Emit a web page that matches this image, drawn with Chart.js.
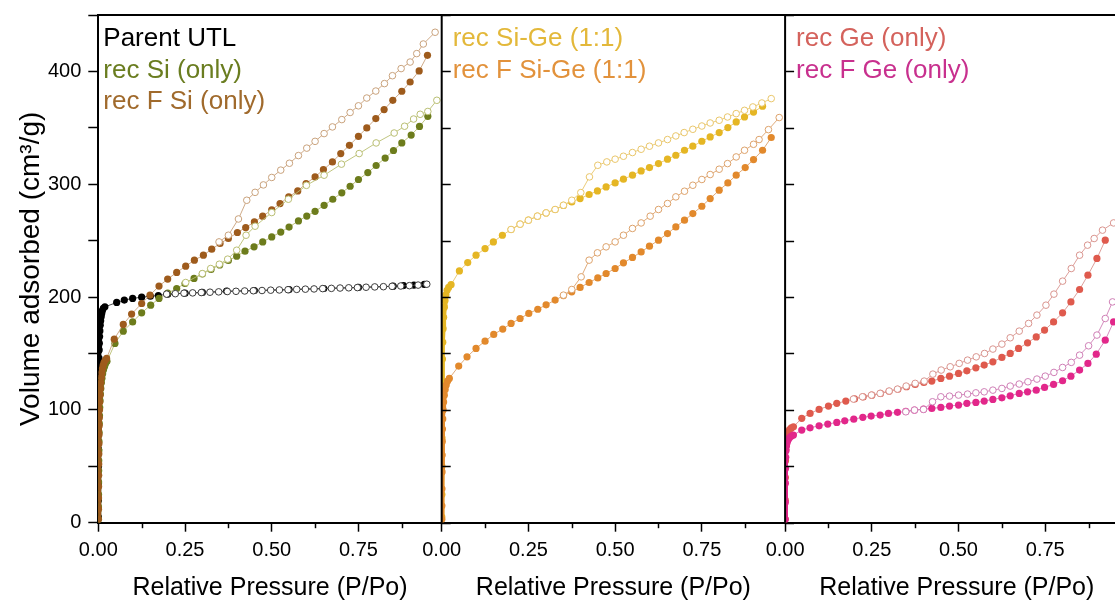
<!DOCTYPE html>
<html>
<head>
<meta charset="utf-8">
<script src="https://cdn.jsdelivr.net/npm/chart.js@4"></script>
<style>
  html, body { margin: 0; padding: 0; background: #fff; overflow: hidden; }
  #wrap { width: 1140px; height: 603px; }
</style>
</head>
<body>
<div id="wrap"><canvas id="isotherms" width="1140" height="603"></canvas></div>
<script>
// Samples, one per legend line; each has an adsorption (filled) and desorption (open) branch
const sampleNames = ["Parent UTL", "rec Si (only)", "rec F Si (only)", "rec Si-Ge (1:1)", "rec F Si-Ge (1:1)", "rec Ge (only)", "rec F Ge (only)"];
const samplePanels = ["x1", "x1", "x1", "x2", "x2", "x3", "x3"];
const fillColors = ["#000000", "#6d7c1c", "#9e5b1c", "#e5b624", "#e2892c", "#df5a4d", "#e2278a"];
const openColors = ["#3a3a3a", "#b9be72", "#c9a27c", "#e9c66a", "#dda26b", "#d9948e", "#cf7fb6"];
const textColors = ["#000000", "#6a7d20", "#a06a2c", "#e3b83a", "#e2923c", "#d4625c", "#c8308e"];

const yTicks = [0, 100, 200, 300, 400];
const xTicks = [0, 0.25, 0.5, 0.75];

// Parent UTL
const parentAdsX = [0.0002, 0.0003, 0.0004, 0.0005, 0.0006, 0.0007, 0.0008, 0.0009, 0.001, 0.0013, 0.0016, 0.002, 0.0025, 0.003, 0.0037, 0.0045, 0.0055, 0.0068, 0.0082, 0.0098, 0.0118, 0.0145, 0.019,
  0.053, 0.075, 0.099, 0.125, 0.15, 0.173, 0.2, 0.25, 0.3, 0.37, 0.45, 0.55, 0.65, 0.75, 0.85, 0.88, 0.91, 0.94];
const parentAdsY = [5, 20, 35, 50, 65, 80, 95, 108, 120, 130, 138, 146, 153, 159, 165, 170, 175, 179, 182.5, 185.5, 188, 190, 191.3,
  195.2, 197.3, 198.8, 199.9, 200.7, 201.4, 202.5, 203.4, 204.1, 205.3, 205.8, 206.6, 207.6, 208.5, 209.6, 210.2, 210.6, 211.2];
const parentDesX = [0.947, 0.922, 0.897, 0.872, 0.847, 0.822, 0.797, 0.772, 0.747, 0.722, 0.697, 0.672, 0.647, 0.622, 0.597, 0.572, 0.547, 0.522, 0.497, 0.472, 0.447, 0.422, 0.397, 0.372, 0.347, 0.322, 0.297, 0.272, 0.247, 0.222, 0.197];
const parentDesY = [211.4, 210.6, 210.1, 209.8, 209.5, 209.2, 209.0, 208.7, 208.4, 208.2, 208.0, 207.7, 207.5, 207.2, 207.0, 206.8, 206.5, 206.3, 206.1, 205.8, 205.6, 205.4, 205.1, 204.9, 204.6, 204.3, 204.0, 203.7, 203.4, 203.0, 202.6];

// rec Si (only)
const recSiAdsX = [0.0003, 0.0005, 0.0007, 0.0009, 0.0011, 0.0013, 0.0016, 0.0019, 0.0023, 0.0028, 0.0034, 0.0041, 0.005, 0.006, 0.0072, 0.0087, 0.0105, 0.0125, 0.015, 0.018, 0.021, 0.025,
  0.048, 0.072, 0.099, 0.125, 0.151, 0.175, 0.2, 0.226, 0.25, 0.276, 0.3, 0.325, 0.35, 0.375, 0.399, 0.423, 0.449, 0.474, 0.5, 0.526, 0.55, 0.577, 0.601, 0.625, 0.651, 0.676, 0.702, 0.726, 0.75, 0.777, 0.801, 0.827, 0.851, 0.875, 0.902, 0.926, 0.95];
const recSiAdsY = [3, 14, 25, 36, 46, 55, 64, 72, 80, 88, 95, 102, 108, 114, 119, 124, 128, 132, 135.5, 138.5, 141, 143,
  158.9, 169.8, 178, 186, 192.8, 198.8, 203.5, 207.6, 212, 216.5, 220.5, 224.5, 228.5, 232.4, 236.2, 240.7, 244.5, 248.9, 253.3, 257.6, 262, 267.5, 271.8, 276, 281.3, 286.7, 292.4, 298.2, 304.2, 310.3, 316.6, 323.2, 329.9, 336.6, 343.6, 351.2, 360.2];
const recSiDesX = [0.976, 0.95, 0.928, 0.909, 0.883, 0.853, 0.801, 0.752, 0.701, 0.651, 0.6, 0.548, 0.5, 0.452, 0.426, 0.399, 0.373, 0.349, 0.324, 0.3, 0.252];
const recSiDesY = [374.4, 364.5, 362, 357.8, 351.4, 345.4, 336.6, 327.2, 317.8, 308, 299, 286.7, 274.9, 262.8, 254.8, 241.5, 233.6, 229.1, 225.3, 220.8, 212.9];

// rec F Si (only)
const recFSiAdsX = [0.0003, 0.0005, 0.0007, 0.0009, 0.0011, 0.0013, 0.0015, 0.0018, 0.0021, 0.0025, 0.003, 0.0035, 0.0042, 0.005, 0.006, 0.0072, 0.0086, 0.0102, 0.012, 0.014, 0.0165, 0.02, 0.024,
  0.046, 0.072, 0.096, 0.125, 0.149, 0.175, 0.2, 0.226, 0.252, 0.277, 0.303, 0.327, 0.351, 0.375, 0.401, 0.425, 0.45, 0.474, 0.5, 0.524, 0.549, 0.575, 0.599, 0.625, 0.649, 0.675, 0.699, 0.724, 0.75, 0.774, 0.8, 0.824, 0.849, 0.875, 0.899, 0.925, 0.949];
const recFSiAdsY = [3, 12, 22, 32, 42, 52, 61, 70, 78, 86, 93, 100, 107, 113, 119, 124, 129, 133, 136.5, 139.5, 142, 144, 145.6,
  162.7, 175.7, 184.9, 194.3, 201.7, 209.7, 215.9, 221.8, 227.4, 232.7, 237.1, 242.4, 247.5, 251.9, 257.2, 261.6, 266.6, 271.7, 277.3, 282.9, 288.8, 294.1, 300.6, 306.5, 313, 319.8, 327.2, 334.5, 342.5, 349.9, 358.2, 366.2, 374.4, 382.4, 390.6, 400.4, 414.3];
const recFSiDesX = [0.971, 0.937, 0.918, 0.899, 0.873, 0.848, 0.825, 0.8, 0.774, 0.75, 0.726, 0.702, 0.675, 0.651, 0.625, 0.601, 0.577, 0.551, 0.526, 0.5, 0.476, 0.452, 0.428, 0.404, 0.375, 0.348];
const recFSiDesY = [434.7, 424.3, 415.8, 408.3, 402.5, 396.2, 389.2, 382.6, 376.4, 369.5, 363.6, 357.3, 350.8, 344.9, 338, 332, 325.4, 318.6, 312.5, 306, 299.4, 292.8, 285.8, 269.2, 254.8, 248.9];

// rec Si-Ge (1:1)
const recSiGeAdsX = [0.0003, 0.0005, 0.0007, 0.0009, 0.0012, 0.0016, 0.0022, 0.003, 0.004, 0.0055, 0.0075, 0.0095, 0.012, 0.0155, 0.02, 0.027,
  0.051, 0.075, 0.099, 0.125, 0.149, 0.175, 0.2, 0.226, 0.25, 0.276, 0.301, 0.327, 0.351, 0.375, 0.399, 0.425, 0.449, 0.474, 0.5, 0.524, 0.55, 0.575, 0.599, 0.625, 0.651, 0.675, 0.7, 0.724, 0.75, 0.774, 0.8, 0.825, 0.849, 0.873, 0.899, 0.925];
const recSiGeAdsY = [5, 25, 50, 75, 100, 125, 145, 160, 172, 182, 191, 197, 202, 206, 208.5, 211,
  223.2, 230.6, 237.1, 243, 248.9, 254.8, 259.9, 264.6, 268.1, 271.7, 274.6, 277.6, 281.2, 284.3, 287.3, 290.9, 294.1, 297.6, 301.2, 304.5, 308, 311.8, 314.8, 318.3, 322.2, 325.7, 330.1, 333.7, 338.1, 341.9, 345.8, 350.2, 355.2, 359.6, 364, 369.1];
const recSiGeDesX = [0.95, 0.923, 0.897, 0.873, 0.849, 0.824, 0.8, 0.774, 0.75, 0.724, 0.699, 0.675, 0.651, 0.625, 0.599, 0.575, 0.55, 0.524, 0.5, 0.476, 0.45, 0.426, 0.401, 0.375, 0.351, 0.327, 0.301, 0.276, 0.25, 0.226, 0.2];
const recSiGeDesY = [375.9, 372, 368.5, 365.5, 362.6, 359.6, 356.7, 354.3, 351.6, 348.7, 345.8, 342.8, 339.6, 336.6, 333.7, 331, 328.1, 324.8, 322.2, 319.8, 316.8, 306.5, 292.6, 285.8, 281.4, 277.6, 274.6, 271.7, 268.1, 264.6, 259.9];

// rec F Si-Ge (1:1)
const recFSiGeAdsX = [0.0003, 0.0005, 0.0007, 0.001, 0.0013, 0.0017, 0.0022, 0.003, 0.004, 0.0055, 0.0075, 0.01, 0.013, 0.017, 0.022,
  0.049, 0.073, 0.099, 0.125, 0.15, 0.176, 0.2, 0.226, 0.251, 0.277, 0.301, 0.327, 0.351, 0.375, 0.399, 0.425, 0.45, 0.474, 0.5, 0.524, 0.55, 0.575, 0.599, 0.625, 0.651, 0.675, 0.7, 0.724, 0.75, 0.774, 0.8, 0.825, 0.849, 0.875, 0.899, 0.925, 0.95];
const recFSiGeAdsY = [3, 15, 30, 45, 60, 72, 83, 92, 100, 107, 113, 118, 122, 125.5, 127.9,
  138.8, 147, 154.5, 160.9, 166.9, 171.6, 176.6, 181, 185.5, 189.2, 193.1, 197.3, 201.3, 204.6, 208.5, 212.9, 217, 220.9, 225.3, 230.3, 235.1, 240, 245.1, 250.4, 256.3, 262.2, 268.1, 274, 280.5, 287.3, 294.7, 301.2, 308, 314.8, 321.9, 330.1, 341.4];
const recFSiGeDesX = [0.973, 0.942, 0.915, 0.899, 0.873, 0.849, 0.824, 0.8, 0.774, 0.75, 0.724, 0.7, 0.675, 0.651, 0.625, 0.601, 0.575, 0.55, 0.524, 0.5, 0.474, 0.449, 0.425, 0.402, 0.375, 0.351];
const recFSiGeDesY = [359.1, 348.4, 339.6, 335.4, 330.1, 324.2, 318.3, 313.3, 308.6, 304.2, 299.1, 293.8, 288.8, 282.9, 277.6, 271.7, 265.7, 260.8, 254.8, 248.9, 244.5, 239.2, 232.7, 217.9, 206.7, 201.7];

// rec Ge (only)
const recGeAdsX = [0.0003, 0.0005, 0.0008, 0.0012, 0.0018, 0.0027, 0.004, 0.006, 0.009, 0.013, 0.018, 0.024,
  0.048, 0.072, 0.098, 0.125, 0.149, 0.175, 0.2, 0.225, 0.25, 0.275, 0.3, 0.325, 0.35, 0.375, 0.4, 0.423, 0.449, 0.474, 0.5, 0.524, 0.55, 0.574, 0.599, 0.625, 0.649, 0.673, 0.699, 0.724, 0.748, 0.774, 0.8, 0.824, 0.849, 0.873, 0.899, 0.923];
const recGeAdsY = [3, 20, 40, 55, 65, 71, 75, 78, 80.5, 82.5, 84, 85,
  92.5, 96.9, 100.4, 103.4, 105.8, 107.8, 109.7, 111.5, 113, 114.6, 116.5, 118.3, 120.5, 122.6, 124.3, 125.5, 127.9, 129.9, 132.3, 134.6, 137.3, 139.7, 142.6, 146.5, 150, 154.5, 159.4, 164.7, 170.7, 178, 186, 195.7, 206.7, 219.4, 234.2, 250.4];
const recGeDesX = [0.947, 0.915, 0.891, 0.872, 0.849, 0.825, 0.8, 0.775, 0.752, 0.726, 0.702, 0.675, 0.649, 0.625, 0.599, 0.575, 0.551, 0.526, 0.502, 0.476, 0.45, 0.426, 0.401, 0.375, 0.349, 0.324, 0.3, 0.274, 0.249, 0.223, 0.197];
const recGeDesY = [265.7, 259.3, 251.9, 246, 237.1, 225.3, 214.1, 202.6, 192.8, 184, 176.6, 169.8, 163.9, 158.3, 153.9, 150, 147, 144.1, 141.2, 138.2, 135.3, 131.7, 125.5, 123.5, 121.1, 118.4, 116.7, 114.6, 113.1, 111.6, 109.6];

// rec F Ge (only)
const recFGeAdsX = [0.0003, 0.0005, 0.0008, 0.0012, 0.0018, 0.0027, 0.004, 0.006, 0.009, 0.013, 0.018, 0.024,
  0.048, 0.072, 0.098, 0.123, 0.149, 0.172, 0.198, 0.224, 0.248, 0.274, 0.298, 0.324, 0.348, 0.373, 0.399, 0.423, 0.449, 0.474, 0.5, 0.524, 0.55, 0.574, 0.599, 0.625, 0.649, 0.675, 0.699, 0.724, 0.748, 0.774, 0.8, 0.824, 0.849, 0.873, 0.897, 0.923, 0.947];
const recFGeAdsY = [3, 18, 35, 48, 58, 64, 68, 71, 73.5, 75.5, 76.8, 77.7,
  82.1, 84.1, 85.9, 87.4, 88.9, 90.3, 91.8, 93.4, 94.5, 95.4, 96.9, 97.8, 98.6, 99.8, 100.6, 101.3, 102.2, 103.4, 104.3, 105.8, 106.6, 107.8, 109.3, 110.7, 112.5, 114.6, 116, 117.5, 119.9, 122.6, 125.8, 129.9, 135.3, 141.2, 149.4, 161.8, 178];
const recFGeDesX = [0.944, 0.923, 0.899, 0.875, 0.849, 0.825, 0.8, 0.775, 0.75, 0.726, 0.7, 0.675, 0.649, 0.625, 0.599, 0.574, 0.55, 0.526, 0.5, 0.474, 0.449, 0.425, 0.399, 0.373, 0.348];
const recFGeDesY = [195.7, 181, 166.3, 156.8, 148.5, 142.1, 137.6, 133.2, 129.9, 127.3, 124.9, 122.9, 121.1, 119, 117.5, 116, 115.1, 114, 113.1, 112.2, 111.6, 107.2, 100.4, 99.8, 98.3];

const adsXs = [parentAdsX, recSiAdsX, recFSiAdsX, recSiGeAdsX, recFSiGeAdsX, recGeAdsX, recFGeAdsX];
const adsYs = [parentAdsY, recSiAdsY, recFSiAdsY, recSiGeAdsY, recFSiGeAdsY, recGeAdsY, recFGeAdsY];
const desXs = [parentDesX, recSiDesX, recFSiDesX, recSiGeDesX, recFSiGeDesX, recGeDesX, recFGeDesX];
const desYs = [parentDesY, recSiDesY, recFSiDesY, recSiGeDesY, recFSiGeDesY, recGeDesY, recFGeDesY];

const FONT = '"Liberation Sans", Arial, Helvetica, sans-serif';
Chart.defaults.font.family = FONT;
Chart.defaults.color = "#000";

function toPoints(xs, ys) {
  return xs.map((x, i) => ({ x: x, y: ys[i] }));
}

const datasets = [];
sampleNames.forEach((name, i) => {
  // open symbols (desorption) sit on top of the filled ones
  datasets.push({
    label: name + " desorption",
    data: toPoints(desXs[i], desYs[i]),
    xAxisID: samplePanels[i],
    yAxisID: "y",
    showLine: true,
    borderColor: openColors[i],
    borderWidth: 0.9,
    pointRadius: 3.3,
    pointBackgroundColor: "#ffffff",
    pointBorderColor: openColors[i],
    pointBorderWidth: 1,
    order: sampleNames.length - i
  });
  datasets.push({
    label: name,
    data: toPoints(adsXs[i], adsYs[i]),
    xAxisID: samplePanels[i],
    yAxisID: "y",
    showLine: true,
    borderColor: openColors[i],
    borderWidth: 0.9,
    borderCapStyle: "round",
    borderJoinStyle: "round",
    pointRadius: 3.6,
    pointBackgroundColor: fillColors[i],
    pointBorderWidth: 0,
    // the dense low-pressure part reads as a thick band
    segment: {
      borderWidth: ctx => ctx.p1.parsed.x < 0.03 ? 5 : 0.9,
      borderColor: ctx => ctx.p1.parsed.x < 0.03 ? fillColors[i] : openColors[i]
    },
    order: 20 + sampleNames.length - i
  });
});

function panelAxis() {
  return {
    type: "linear",
    position: "bottom",
    stack: "panels",
    stackWeight: 1,
    min: 0,
    max: 0.99,
    offset: false,
    afterFit(scale) { scale.height = 80.3; },
    afterBuildTicks(scale) { scale.ticks = xTicks.map(v => ({ value: v })); },
    border: { color: "#000", width: 2 },
    grid: { drawOnChartArea: false, tickLength: 9, tickWidth: 1.5, tickColor: "#000" },
    ticks: {
      padding: 7, color: "#000", font: { size: 20 }, maxRotation: 0, autoSkip: false,
      callback: v => Number(v).toFixed(2)
    },
    title: {
      display: true, text: "Relative Pressure (P/Po)", color: "#000",
      font: { size: 25 }, padding: { top: 0, bottom: 0 }
    }
  };
}

// frame: top line, panel separators with inward y ticks, minor x ticks
const panelFrame = {
  id: "panelFrame",
  afterDraw(chart) {
    const { ctx, chartArea, scales } = chart;
    const y = scales.y;
    ctx.save();
    ctx.strokeStyle = "#000";
    ctx.lineWidth = 2;
    ctx.beginPath();
    ctx.moveTo(chartArea.left, chartArea.top);
    ctx.lineTo(chartArea.right, chartArea.top);
    ctx.stroke();

    ["x2", "x3"].forEach(id => {
      const s = scales[id];
      ctx.lineWidth = 2;
      ctx.beginPath();
      ctx.moveTo(s.left, chartArea.top);
      ctx.lineTo(s.left, chartArea.bottom);
      ctx.stroke();
      ctx.lineWidth = 1.5;
      y.ticks.forEach(t => {
        const py = Math.round(y.getPixelForValue(t.value)) + 0.5;
        ctx.beginPath();
        ctx.moveTo(s.left, py);
        ctx.lineTo(s.left + 9, py);
        ctx.stroke();
      });
    });

    ctx.lineWidth = 1.5;
    ["x1", "x2", "x3"].forEach(id => {
      const s = scales[id];
      s.ticks.forEach(t => {
        const v = t.value + 0.125;
        if (v > s.max) return;
        const px = Math.round(s.getPixelForValue(v)) + 0.5;
        ctx.beginPath();
        ctx.moveTo(px, chartArea.bottom);
        ctx.lineTo(px, chartArea.bottom + 5.5);
        ctx.stroke();
      });
    });
    ctx.restore();
  }
};

// colored text legend in the upper left of each panel
const legendText = {
  id: "legendText",
  afterDraw(chart) {
    const { ctx, chartArea, scales } = chart;
    const rows = {};
    ctx.save();
    ctx.font = "26px " + FONT;
    ctx.textBaseline = "alphabetic";
    ctx.textAlign = "left";
    sampleNames.forEach((name, i) => {
      const id = samplePanels[i];
      const row = rows[id] || 0;
      rows[id] = row + 1;
      ctx.fillStyle = textColors[i];
      ctx.fillText(name, scales[id].left + (id === "x1" ? 5 : 11), chartArea.top + 31 + row * 31.5);
    });
    ctx.restore();
  }
};

new Chart(document.getElementById("isotherms"), {
  type: "scatter",
  data: { datasets: datasets },
  options: {
    responsive: false,
    animation: false,
    devicePixelRatio: 1,
    layout: { padding: { top: 15, right: 11.5, bottom: 0, left: 0 } },
    plugins: { legend: { display: false }, tooltip: { enabled: false } },
    scales: {
      x1: panelAxis(),
      x2: panelAxis(),
      x3: panelAxis(),
      y: {
        type: "linear",
        position: "left",
        min: 0,
        max: 450,
        afterFit(scale) {
          scale.width = 98.3;
          scale.paddingTop = 0;
          scale.paddingBottom = 0;
        },
        border: { color: "#000", width: 2 },
        grid: { drawOnChartArea: false, tickLength: 10, tickWidth: 1.5, tickColor: "#000" },
        ticks: {
          stepSize: 50, padding: 7, color: "#000", font: { size: 20 },
          callback: v => yTicks.includes(v) ? v : ""
        },
        title: {
          display: true, text: "Volume adsorbed (cm³/g)", color: "#000",
          font: { size: 28 }, padding: { top: 14, bottom: 0 }
        }
      }
    }
  },
  plugins: [panelFrame, legendText]
});
</script>
</body>
</html>
